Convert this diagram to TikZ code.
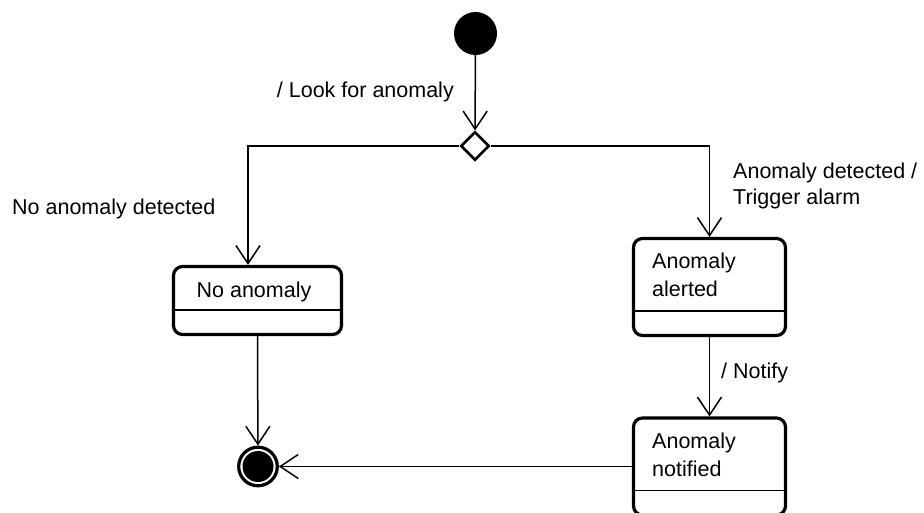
\documentclass[tikz,border=0pt]{standalone}
\usepackage{fontspec}
\setmainfont{Liberation Sans}
\usetikzlibrary{arrows.meta,shapes.geometric,positioning}

\tikzset{
    state/.style={draw, line width=3.2pt, rounded corners=9pt, minimum width=152pt, minimum height=97pt, inner sep=0pt,
        path picture={\draw[line width=1.6pt] ([yshift=24.5pt]path picture bounding box.south west) -- ([yshift=24.5pt]path picture bounding box.south east);}},
    lbl/.style={inner sep=0pt, align=left, font=\fontsize{21.5}{25.5}\selectfont},
    statename/.style={lbl, font=\fontsize{21.5}{28}\selectfont},
    trans/.style={line width=1.5pt, -{Straight Barb[length=18pt, width=24pt]}},
}

\begin{document}
\begin{tikzpicture}[x=1pt, y=-1pt]
        \useasboundingbox (0,0) rectangle (924,513);

        % Start, choice and end
        \node[circle, fill=black, minimum size=43pt, inner sep=0pt] (start) at (475.5,33.5) {};
        \node[diamond, draw, line width=2.7pt, minimum width=28.6pt, minimum height=28.6pt, inner sep=0pt] (choice) at (475,146) {};
        \node[circle, draw, line width=3.2pt, minimum size=38.6pt, inner sep=0pt,
            path picture={\fill (path picture bounding box.center) circle (15.5pt);}] (stop) at (258,466.5) {};

        % States
        \node[state, minimum width=168pt, minimum height=68pt] (noanom) at (257.5,300.5) {};
        \node[state] (alerted) at (709.5,287) {};
        \node[state] (notified) at (709.5,466.5) {};

        % State names
        \node[statename, anchor=base] (noanomtxt) at (254,298) {No anomaly};
        \node[statename, anchor=north west] (alertedtxt) at (652,253) {Anomaly\\alerted};
        \node[statename, anchor=north west] (notifiedtxt) at (652,433) {Anomaly\\notified};

        % Transitions
        \draw[trans] (start) -- (choice);
        \draw[trans] (choice.west) -| ([xshift=-9.5pt]noanom.north);
        \draw[trans] (choice.east) -| (alerted.north);
        \draw[trans] (alerted) -- (notified);
        \draw[trans] (noanom.south) -- (stop);
        \draw[trans] (notified) -- (stop);

        % Guards and actions
        \node[lbl, anchor=base east] (lookfor) at (454,98) {/ Look for anomaly};
        \node[lbl, anchor=base west] (noneseen) at (12,215) {No anomaly detected};
        \node[lbl, anchor=north west] (alarm) at (733,163) {Anomaly detected /\\Trigger alarm};
        \node[lbl, anchor=base west] (notify) at (721,378) {/ Notify};
    \end{tikzpicture}
\end{document}
